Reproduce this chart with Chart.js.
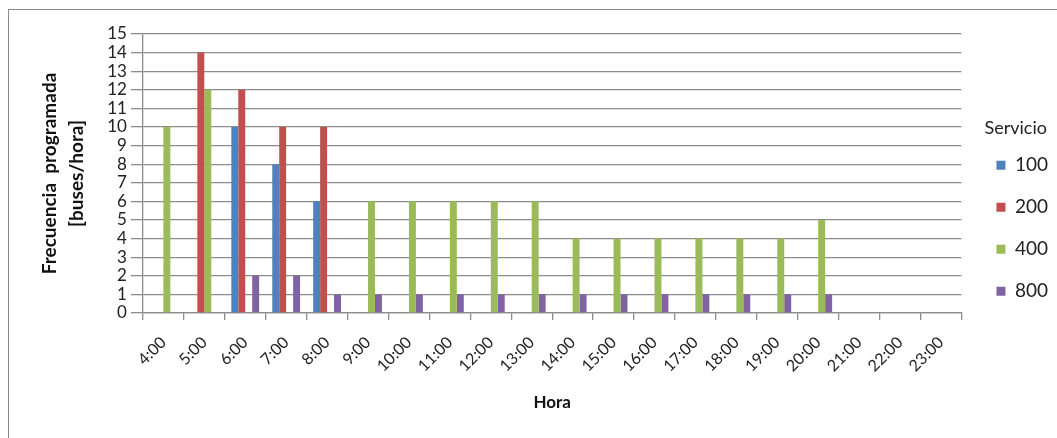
<!DOCTYPE html>
<html>
<head>
<meta charset="utf-8">
<script src="https://cdn.jsdelivr.net/npm/chart.js@4/dist/chart.umd.min.js"></script>
<style>
  body { margin: 0; background: #fff; overflow: hidden; }
  #box { position: absolute; left: 8px; top: 9px; width: 1049px; height: 429px; border-left: 1px solid #8a8a8a; border-top: 1px solid #8a8a8a; }
  canvas { display: block; }
</style>
</head>
<body>
<div id="box"><canvas id="chFrecuencia" width="1049" height="429"></canvas></div>
<script>
// horas del dia
var horas = ['4:00', '5:00', '6:00', '7:00', '8:00', '9:00', '10:00', '11:00', '12:00', '13:00',
  '14:00', '15:00', '16:00', '17:00', '18:00', '19:00', '20:00', '21:00', '22:00', '23:00'];

// frecuencia por servicio (buses/hora)
var s100 = [0, 0, 10, 8, 6, 0, 0, 0, 0, 0, 0, 0, 0, 0, 0, 0, 0, 0, 0, 0];
var s200 = [0, 14, 12, 10, 10, 0, 0, 0, 0, 0, 0, 0, 0, 0, 0, 0, 0, 0, 0, 0];
var s400 = [10, 12, 0, 0, 0, 6, 6, 6, 6, 6, 4, 4, 4, 4, 4, 4, 5, 0, 0, 0];
var s800 = [0, 0, 2, 2, 1, 1, 1, 1, 1, 1, 1, 1, 1, 1, 1, 1, 1, 0, 0, 0];

var servicios = ['100', '200', '400', '800'];
var colors = ['#4F81BD', '#C0504D', '#9BBB59', '#8064A2'];

var fuente = "Lato, 'Open Sans', sans-serif";
var gridColor = '#8c8c8c';
var extraLeyenda = 12; // espacio libre entre el grafico y la leyenda

var data = {
  labels: horas,
  datasets: [s100, s200, s400, s800].map(function (vals, i) {
    return {
      label: servicios[i],
      data: vals,
      backgroundColor: colors[i],
      borderWidth: 0,
      barPercentage: 1.0,
      categoryPercentage: 0.68
    };
  })
};

// deja un hueco a la izquierda de la leyenda
var huecoLeyenda = {
  id: 'huecoLeyenda',
  afterInit: function (chart) {
    var lg = chart.legend;
    var fit = lg.fit;
    lg.fit = function () {
      fit.call(this);
      this.width += extraLeyenda;
    };
  },
  afterLayout: function (chart) {
    chart.legend.left += extraLeyenda;
    chart.legend.width -= extraLeyenda;
  }
};

new Chart(document.getElementById('chFrecuencia'), {
  type: 'bar',
  data: data,
  plugins: [huecoLeyenda],
  options: {
    responsive: false,
    animation: false,
    layout: { padding: { top: 24, right: 0, left: 24, bottom: 22 } },
    plugins: {
      tooltip: { enabled: false },
      legend: {
        position: 'right',
        title: { display: true, text: 'Servicio', color: '#222', font: { family: fuente, size: 18 }, padding: { top: -8, bottom: -8 } },
        labels: {
          boxWidth: 9, boxHeight: 9, padding: 23, color: '#222',
          font: { family: fuente, size: 19 }
        }
      }
    },
    scales: {
      x: {
        grid: { offset: true, drawOnChartArea: false, color: gridColor, lineWidth: 1.3, tickLength: 7 },
        border: { color: gridColor, width: 1.3 },
        ticks: { color: '#222', font: { family: fuente, size: 16 }, maxRotation: 45, minRotation: 45, autoSkip: false, padding: 13 },
        title: { display: true, text: 'Hora', color: '#111', font: { family: fuente, size: 17, weight: 'bold' }, padding: { top: 4 } }
      },
      y: {
        min: 0, max: 15,
        grid: { color: gridColor, lineWidth: 1.3, tickLength: 12 },
        border: { color: gridColor, width: 1.3 },
        ticks: { stepSize: 1, autoSkip: false, color: '#222', font: { family: fuente, size: 17 }, padding: 4 },
        title: {
          display: true, text: ['Frecuencia  programada', '[buses/hora]'],
          color: '#111', font: { family: fuente, size: 19, weight: 'bold', lineHeight: 1.4 }, padding: { bottom: 13 }
        }
      }
    }
  }
});
</script>
</body>
</html>
